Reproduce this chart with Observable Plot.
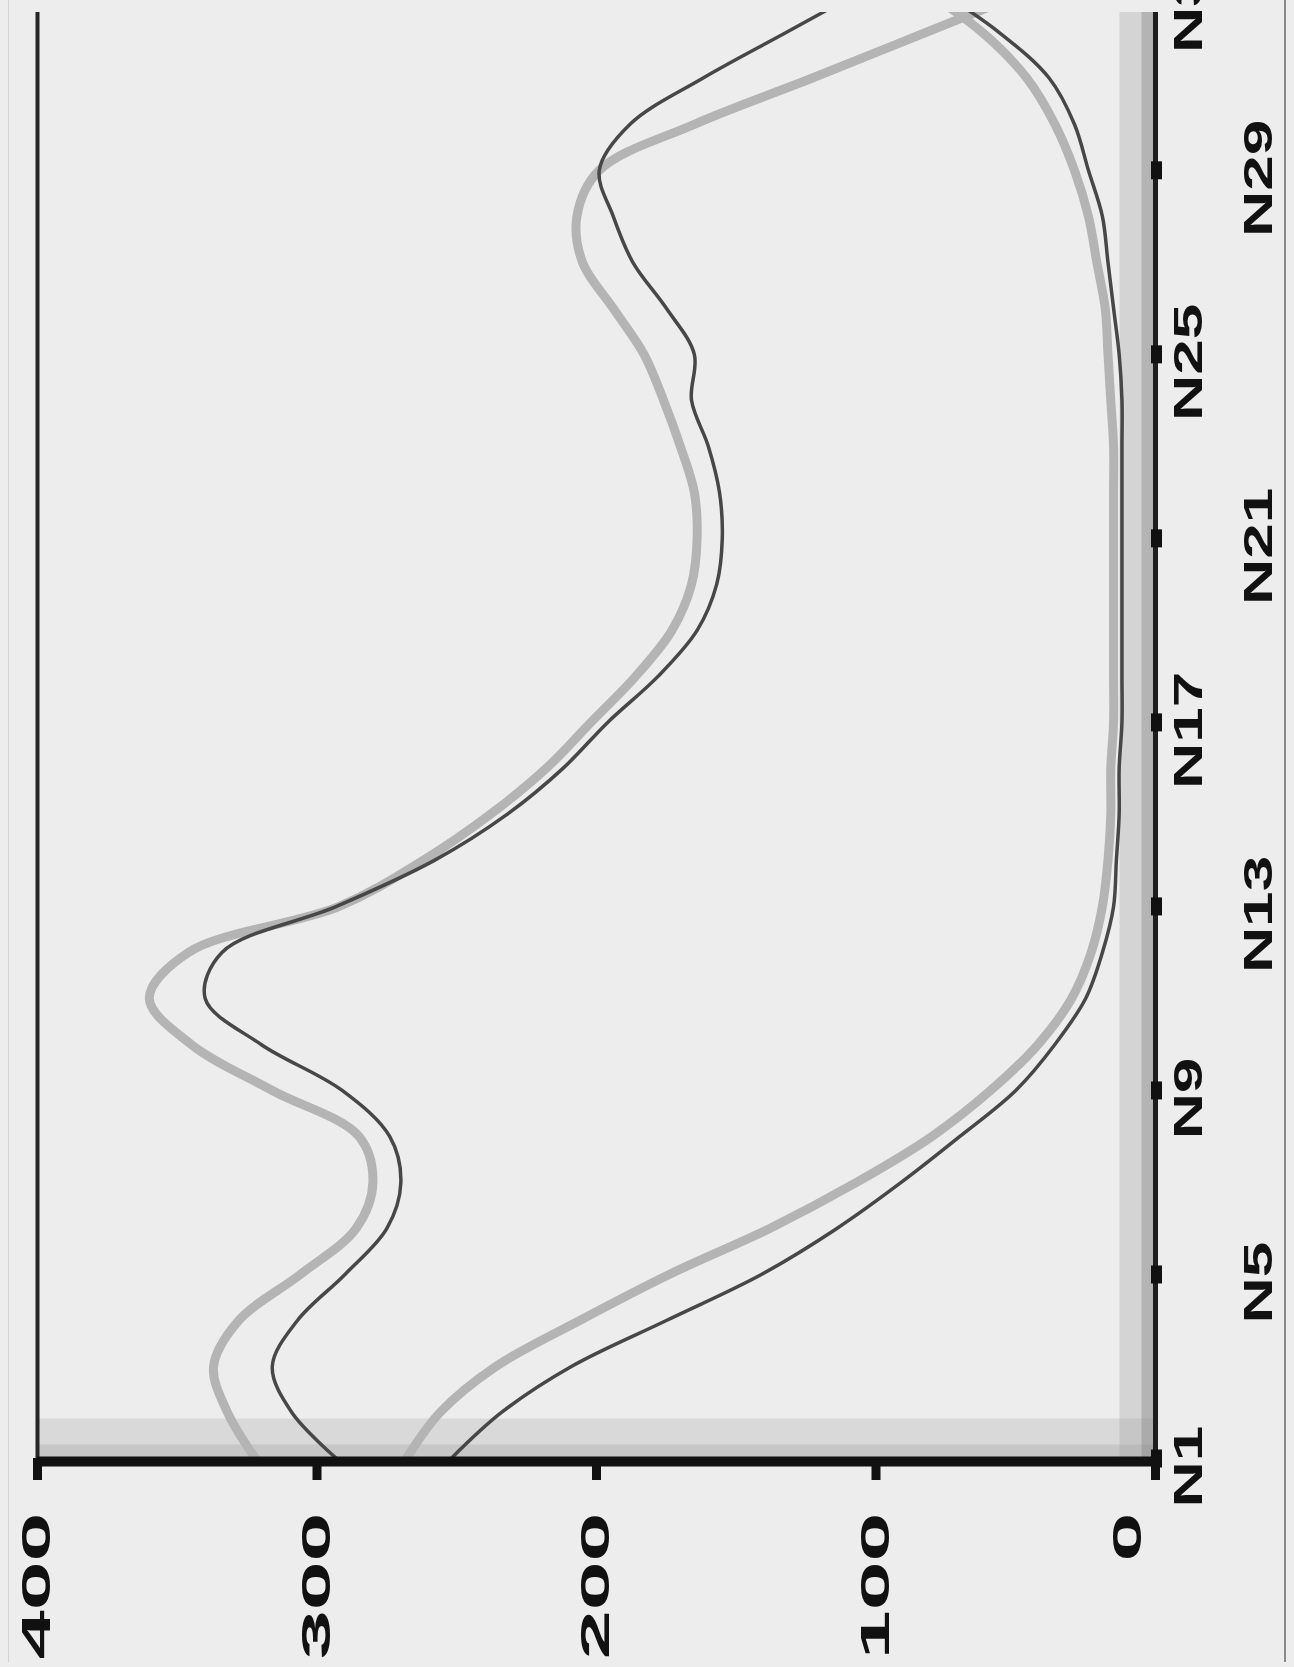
<!DOCTYPE html>
<html>
<head>
<meta charset="utf-8">
<script src="https://cdn.jsdelivr.net/npm/d3@7"></script>
<script src="https://cdn.jsdelivr.net/npm/@observablehq/plot@0.6"></script>
<style>
  html, body { margin: 0; padding: 0; background: #ededed; }
  #wrap { position: relative; width: 1294px; height: 1667px; overflow: hidden; }
  #border { position: absolute; left: 8px; top: 0; width: 1275px; height: 1662px;
            border-left: 1px solid #d2d2d2; border-right: 2px solid #8a8a8a; pointer-events: none; }
</style>
</head>
<body>
<div id="wrap"><div id="border"></div></div>
<script>
// ---- data ----
const categories = ["N1","N2","N3","N4","N5","N6","N7","N8","N9","N10","N11","N12","N13","N14","N15","N16","N17",
  "N18","N19","N20","N21","N22","N23","N24","N25","N26","N27","N28","N29","N30","N31","N32","N33"];
const upperDark  = [293,309,316,307,290,275,270,274,291,320,340,334,293,258,232,212,196,178,164,157,155,156,160,166,165,175,187,194,199,188,162,132,102];
const upperLight = [322,332,337,328,306,286,280,285,316,345,360,346,292,262,238,218,202,186,173,166,164,165,170,176,183,194,205,207,199,165,123,82,41];
const lowerDark  = [252,234,209,175,141,114,91,70,50,36,25,19,15,14,13,13,12,12,12,12,12,12,12,12,13,15,17,19,24,29,38,56,80];
const lowerLight = [268,256,236,206,174,138,107,80,59,42,30,23,19,17,16,16,15,15,15,15,15,15,15,16,17,18,21,24,29,36,46,62,85];
const valueTicks = [100, 200, 300, 400];
const zeroTick = [0];
const categoryTicks = [1, 5, 9, 13, 17, 21, 25, 29, 33];
const labelRowNear = [1, 9, 17, 25, 33];
const labelRowFar = [5, 13, 21, 29];
const valueDomain = [400, 0];
const categoryDomain = [1, 32.43];

const rows = categories.map((c, i) => ({
  idx: i + 1, cat: c,
  ud: upperDark[i], ul: upperLight[i], ld: lowerDark[i], ll: lowerLight[i]
}));

const labelFont = {fontSize: 40, fontWeight: "bold", fill: "#111"};
const catName = (i) => categories[i - 1];

const chart = Plot.plot({
  width: 1294,
  height: 1667,
  marginLeft: 37,
  marginRight: 139,
  marginTop: 12,
  marginBottom: 209,
  style: {background: "transparent", fontFamily: "'Liberation Sans', Arial, sans-serif", color: "#111"},
  x: {domain: valueDomain, label: null, axis: null},
  y: {domain: categoryDomain, label: null, axis: null},
  marks: [
    // shaded bands along the two axes
    Plot.ruleY([1], {stroke: "#a0a0a0", strokeOpacity: 0.25, strokeWidth: 40, dy: -20}),
    Plot.ruleY([1], {stroke: "#8a8a8a", strokeOpacity: 0.22, strokeWidth: 14, dy: -7}),
    Plot.ruleX([0], {stroke: "#9a9a9a", strokeOpacity: 0.3, strokeWidth: 36, dx: -18}),
    Plot.ruleX([0], {stroke: "#777", strokeOpacity: 0.35, strokeWidth: 14, dx: -7}),
    // 400 line
    Plot.ruleX([400], {stroke: "#262626", strokeWidth: 4}),
    // light (wide) series
    Plot.line(rows, {x: "ul", y: "idx", stroke: "#b4b4b4", strokeWidth: 9, curve: "catmull-rom", clip: true}),
    Plot.line(rows, {x: "ll", y: "idx", stroke: "#b4b4b4", strokeWidth: 9, curve: "catmull-rom", clip: true}),
    // dark (thin) series
    Plot.line(rows, {x: "ud", y: "idx", stroke: "#474747", strokeWidth: 3.5, curve: "catmull-rom", clip: true}),
    Plot.line(rows, {x: "ld", y: "idx", stroke: "#474747", strokeWidth: 3.5, curve: "catmull-rom", clip: true}),
    // axis lines
    Plot.ruleX([0], {stroke: "#1e1e1e", strokeWidth: 5}),
    Plot.ruleY([1], {stroke: "#111", strokeWidth: 10, dy: 3}),
    // value axis (bottom)
    Plot.axisX({ticks: valueTicks.concat(zeroTick), tickSize: 22, stroke: "#111", strokeWidth: 9, tickFormat: () => "", label: null}),
    Plot.axisX({ticks: valueTicks, tickSize: 0, tickPadding: 54, tickRotate: -90, ...labelFont, label: null}),
    Plot.axisX({ticks: zeroTick, tickSize: 0, tickPadding: 54, tickRotate: -90, dx: -27, ...labelFont, label: null}),
    // category axis (right)
    Plot.axisY({anchor: "right", ticks: categoryTicks, tickSize: 11, dx: -5, stroke: "#111", strokeWidth: 18, tickFormat: () => "", label: null}),
    Plot.axisY({anchor: "right", ticks: labelRowNear, tickSize: 0, tickPadding: 18, tickRotate: -90,
                textAnchor: "middle", lineAnchor: "top", dy: 8, tickFormat: catName, ...labelFont, label: null}),
    Plot.axisY({anchor: "right", ticks: labelRowFar, tickSize: 0, tickPadding: 88, tickRotate: -90,
                textAnchor: "middle", lineAnchor: "top", dy: 8, tickFormat: catName, ...labelFont, label: null})
  ]
});

document.getElementById("wrap").prepend(chart);

// stretch the tick labels along their reading direction, as in the scanned original
d3.select(chart).selectAll('g[aria-label="x-axis tick label"] text').each(function() {
  const t = this.getAttribute("transform") || "";
  this.setAttribute("transform", t + " scale(2.2,1)");
});
d3.select(chart).selectAll('g[aria-label="y-axis tick label"] text').each(function() {
  const t = this.getAttribute("transform") || "";
  this.setAttribute("transform", t + " scale(1.6,1)");
});
</script>
</body>
</html>
